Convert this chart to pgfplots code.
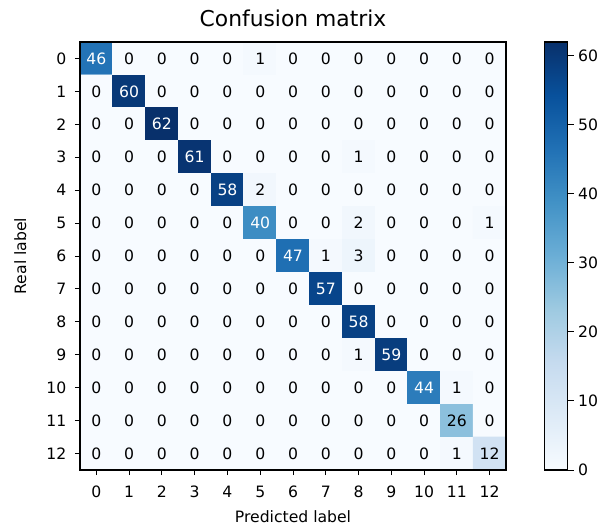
\documentclass[border=0pt]{standalone}
\usepackage{pgfplots}
\usepackage{pgfplotstable}
\usepackage{fontspec}
\setmainfont{DejaVu Sans}
\pgfplotsset{compat=1.18}
\pgfplotstableread[row sep=\\]{
x y v\\
0 0 46\\ 1 0 0\\ 2 0 0\\ 3 0 0\\ 4 0 0\\ 5 0 1\\ 6 0 0\\ 7 0 0\\ 8 0 0\\ 9 0 0\\ 10 0 0\\ 11 0 0\\ 12 0 0\\
0 1 0\\ 1 1 60\\ 2 1 0\\ 3 1 0\\ 4 1 0\\ 5 1 0\\ 6 1 0\\ 7 1 0\\ 8 1 0\\ 9 1 0\\ 10 1 0\\ 11 1 0\\ 12 1 0\\
0 2 0\\ 1 2 0\\ 2 2 62\\ 3 2 0\\ 4 2 0\\ 5 2 0\\ 6 2 0\\ 7 2 0\\ 8 2 0\\ 9 2 0\\ 10 2 0\\ 11 2 0\\ 12 2 0\\
0 3 0\\ 1 3 0\\ 2 3 0\\ 3 3 61\\ 4 3 0\\ 5 3 0\\ 6 3 0\\ 7 3 0\\ 8 3 1\\ 9 3 0\\ 10 3 0\\ 11 3 0\\ 12 3 0\\
0 4 0\\ 1 4 0\\ 2 4 0\\ 3 4 0\\ 4 4 58\\ 5 4 2\\ 6 4 0\\ 7 4 0\\ 8 4 0\\ 9 4 0\\ 10 4 0\\ 11 4 0\\ 12 4 0\\
0 5 0\\ 1 5 0\\ 2 5 0\\ 3 5 0\\ 4 5 0\\ 5 5 40\\ 6 5 0\\ 7 5 0\\ 8 5 2\\ 9 5 0\\ 10 5 0\\ 11 5 0\\ 12 5 1\\
0 6 0\\ 1 6 0\\ 2 6 0\\ 3 6 0\\ 4 6 0\\ 5 6 0\\ 6 6 47\\ 7 6 1\\ 8 6 3\\ 9 6 0\\ 10 6 0\\ 11 6 0\\ 12 6 0\\
0 7 0\\ 1 7 0\\ 2 7 0\\ 3 7 0\\ 4 7 0\\ 5 7 0\\ 6 7 0\\ 7 7 57\\ 8 7 0\\ 9 7 0\\ 10 7 0\\ 11 7 0\\ 12 7 0\\
0 8 0\\ 1 8 0\\ 2 8 0\\ 3 8 0\\ 4 8 0\\ 5 8 0\\ 6 8 0\\ 7 8 0\\ 8 8 58\\ 9 8 0\\ 10 8 0\\ 11 8 0\\ 12 8 0\\
0 9 0\\ 1 9 0\\ 2 9 0\\ 3 9 0\\ 4 9 0\\ 5 9 0\\ 6 9 0\\ 7 9 0\\ 8 9 1\\ 9 9 59\\ 10 9 0\\ 11 9 0\\ 12 9 0\\
0 10 0\\ 1 10 0\\ 2 10 0\\ 3 10 0\\ 4 10 0\\ 5 10 0\\ 6 10 0\\ 7 10 0\\ 8 10 0\\ 9 10 0\\ 10 10 44\\ 11 10 1\\ 12 10 0\\
0 11 0\\ 1 11 0\\ 2 11 0\\ 3 11 0\\ 4 11 0\\ 5 11 0\\ 6 11 0\\ 7 11 0\\ 8 11 0\\ 9 11 0\\ 10 11 0\\ 11 11 26\\ 12 11 0\\
0 12 0\\ 1 12 0\\ 2 12 0\\ 3 12 0\\ 4 12 0\\ 5 12 0\\ 6 12 0\\ 7 12 0\\ 8 12 0\\ 9 12 0\\ 10 12 0\\ 11 12 1\\ 12 12 12\\
}\cmdata
\begin{document}
\begin{tikzpicture}
\begin{axis}[
  at={(0,0)}, anchor=south west,
  scale only axis, width=234.3pt, height=235.4pt,
  xmin=-0.5, xmax=12.5, ymin=-0.5, ymax=12.5,
  enlargelimits=false,
  y dir=reverse,
  axis on top,
  xtick={0,...,12}, ytick={0,...,12},
  tick align=outside, major tick length=2.8pt,
  xtick pos=bottom, ytick pos=left,
  tick style={black, line width=0.5pt},
  axis line style={line width=0.6pt},
  ticklabel style={font=\fontsize{8.6}{10}\selectfont},
  xticklabel style={yshift=-2.5pt},
  yticklabel style={xshift=-1.2pt},
  /pgf/number format/assume math mode=true,
  title={Confusion matrix},
  title style={font=\fontsize{12}{14}\selectfont, yshift=-1pt},
  xlabel={Predicted label}, ylabel={Real label},
  label style={font=\fontsize{8.6}{10}\selectfont},
  ylabel style={yshift=4.1pt},
  colormap={blues}{rgb255=(247,251,255) rgb255=(222,235,247) rgb255=(198,219,239) rgb255=(158,202,225) rgb255=(107,174,214) rgb255=(66,146,198) rgb255=(33,113,181) rgb255=(8,81,156) rgb255=(8,48,107)},
  point meta min=0, point meta max=62,
  colorbar,
  colorbar style={
    at={(parent axis.north east)}, anchor=north west, xshift=12.7pt,
    scale only axis,
    width=12.5pt,
    ytick={0,10,...,60},
    ytick pos=right, yticklabel pos=right,
    tick align=outside, major tick length=3.5pt,
    tick style={black, line width=0.5pt},
    axis line style={line width=0.6pt},
    yticklabel style={font=\fontsize{8.6}{10}\selectfont, inner sep=0pt, xshift=2.2pt},
    /pgf/number format/assume math mode=true,
  },
]
\addplot[matrix plot*, mesh/cols=13, point meta=explicit] table[x=x, y=y, meta=v] {\cmdata};
\addplot[only marks, mark=none, point meta=explicit,
  restrict expr to domain={\thisrow{v}}{-1:31},
  nodes near coords, nodes near coords align=center,
  every node near coord/.append style={font=\fontsize{8.6}{10}\selectfont, inner sep=0pt, anchor=center, text=black,
    /pgf/number format/assume math mode=true}]
  table[x=x, y=y, meta=v] {\cmdata};
\addplot[only marks, mark=none, point meta=explicit,
  restrict expr to domain={\thisrow{v}}{31.5:100},
  nodes near coords, nodes near coords align=center,
  every node near coord/.append style={font=\fontsize{8.6}{10}\selectfont, inner sep=0pt, anchor=center, text=white,
    /pgf/number format/assume math mode=true}]
  table[x=x, y=y, meta=v] {\cmdata};
\end{axis}
\pgfresetboundingbox
\path[use as bounding box] (-44pt,-29.7pt) rectangle (286.55pt,258.5pt);
\end{tikzpicture}
\end{document}
